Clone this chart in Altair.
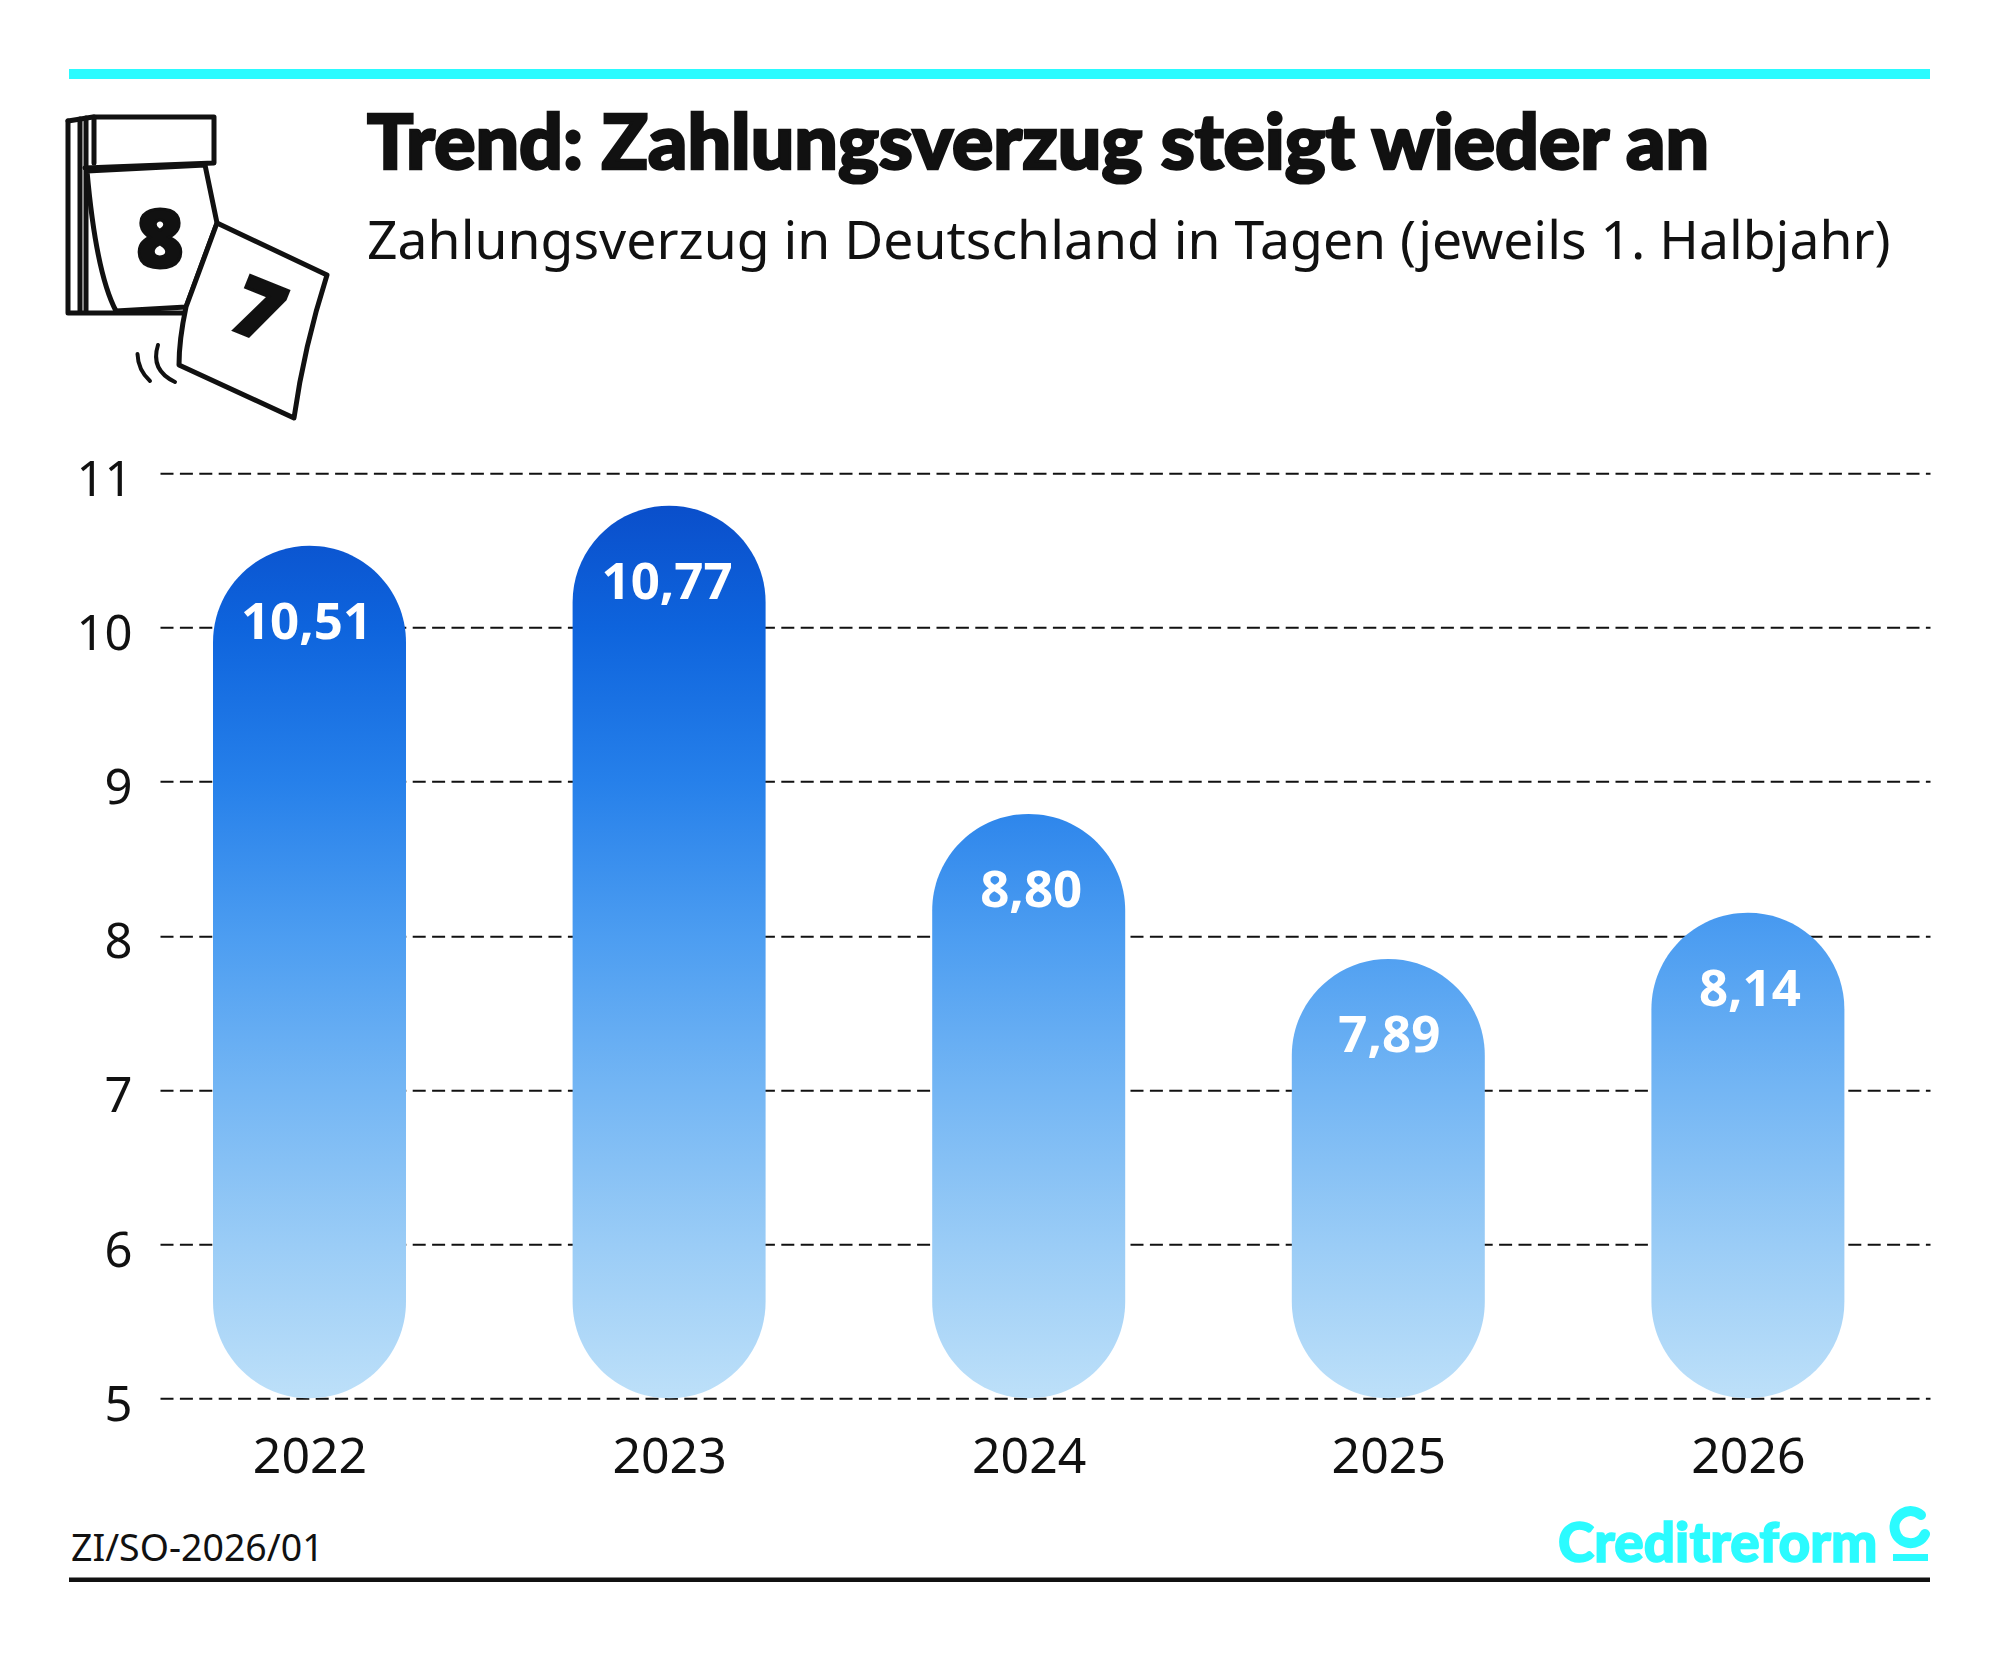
import altair as alt
import pandas as pd

years = [2022, 2023, 2024, 2025, 2026]
bar_tops = [10.53, 10.79, 8.79, 7.85, 8.15]
value_labels = ["10,51", "10,77", "8,80", "7,89", "8,14"]
label_nudges = [-3, -2, 2.5, 1, 2]
y_ticks = [5, 6, 7, 8, 9, 10, 11]

INK = "#111111"
CYAN = "#2bfbff"
X0, Y0 = 160.0, 473.3
W, H = 1770, 925
FONT = "Noto Sans"

gradient_stops = [
    (0.000, "#0a48c4"),
    (0.036, "#0a4fcb"),
    (0.167, "#0e64dd"),
    (0.333, "#2680ea"),
    (0.500, "#4c9df1"),
    (0.667, "#74b6f4"),
    (0.833, "#9accf6"),
    (1.000, "#bde0f9"),
]

x_scale = alt.Scale(domain=[2022 - 149.5 / 359.6, 2026 + 182.1 / 359.6], nice=False, zero=False, padding=0)
y_scale = alt.Scale(domain=[5, 11], nice=False, zero=False)

one = pd.DataFrame({"k": [0]})

def vx(v):
    return alt.value(v - X0)

def vy(v):
    return alt.value(v - Y0)

def page_text(txt, x, y, size, weight="normal", font=FONT, color=INK, align="left", angle=0, sw=0):
    kw = dict(stroke=color, strokeWidth=sw) if sw else {}
    return alt.Chart(one).mark_text(
        text=txt, font=font, fontSize=size, fontWeight=weight, color=color,
        align=align, baseline="alphabetic", angle=angle, **kw
    ).encode(x=vx(x), y=vy(y))

def page_path(d, stroke=INK, sw=5, fill=None):
    kw = dict(shape=d, size=4, stroke=stroke, strokeWidth=sw, opacity=1, strokeJoin="round", strokeCap="round")
    if fill:
        kw.update(filled=True, fill=fill)
    else:
        kw.update(filled=False, fill="transparent")
    return alt.Chart(one).mark_point(**kw).encode(x=vx(0), y=vy(0))

def rect(x1, x2, y1, y2, color):
    return alt.Chart(one).mark_rect(color=color).encode(
        x=vx(x1), x2=vx(x2), y=vy(y1), y2=vy(y2))

# gridlines and axes
base = alt.Chart(pd.DataFrame({"year": years, "top": bar_tops}))
axes = base.mark_point(opacity=0).encode(
    x=alt.X("year:Q", scale=x_scale, axis=alt.Axis(
        values=years, format="d", title=None, grid=False, domain=False, ticks=False,
        labelFont=FONT, labelFontSize=50, labelColor=INK, labelPadding=74,
        labelBaseline="alphabetic", labelFlush=False, labelOverlap=False)),
    y=alt.Y("top:Q", scale=y_scale, axis=alt.Axis(
        values=y_ticks, format="d", title=None, grid=True, gridColor=INK, gridDash=[13, 6.4], gridWidth=2,
        domain=False, ticks=False, labelFont=FONT, labelFontSize=49, labelColor=INK,
        labelPadding=28, labelOffset=7, labelFlush=False)),
)

bars = []
for yr, top in zip(years, bar_tops):
    grad = alt.LinearGradient(
        gradient="linear", x1=0, x2=0, y1=(top - 11) / (top - 5), y2=1,
        stops=[alt.GradientStop(offset=o, color=c) for o, c in gradient_stops],
    )
    bars.append(
        alt.Chart(pd.DataFrame({"year": [yr], "top": [top], "base": [5]}))
        .mark_bar(size=193, cornerRadius=96.5, color=grad)
        .encode(x=alt.X("year:Q", scale=x_scale), y=alt.Y("top:Q", scale=y_scale), y2="base:Q")
    )

labels = [
    alt.Chart(pd.DataFrame({"year": [yr], "top": [top], "label": [lab]})).mark_text(
        font=FONT, fontSize=51, fontWeight="bold", color="white", dy=78, dx=nudge
    ).encode(x=alt.X("year:Q", scale=x_scale), y=alt.Y("top:Q", scale=y_scale), text="label:N")
    for yr, top, lab, nudge in zip(years, bar_tops, value_labels, label_nudges)
]

icon = [
    page_path("M68 121 L93 117 L214 117 L214 163 L85 168"),
    page_path("M68 121 L68 313 L185 313 M80 119 L80 313 M86 118 L86 313 M94 117 L94 163"),
    page_path("M87 171 L205 165 L217 223 L186 307 L116 311 Q96 273 87 171 Z", fill="white"),
    page_path("M217 223 L327 275 Q304 347 294 418 L179 365 Q179 340 186 307 Z", fill="white"),
    page_path("M137.5 354 Q138 370 150 381 M158 345 Q150 370 175 382", sw=4),
    page_text("8", 160, 267, 80, weight=900, align="center", sw=3),
    page_text("7", 248, 336, 80, weight=900, align="center", angle=22, sw=3),
]

chart = alt.layer(
    axes, *bars, *labels,
    rect(69, 1930, 69, 79, CYAN),
    rect(69, 1930, 1577.5, 1582, INK),
    *icon,
    page_text("Trend: Zahlungsverzug steigt wieder an", 367, 169, 77, weight=900, font="Lato", sw=2.5),
    page_text("Zahlungsverzug in Deutschland in Tagen (jeweils 1. Halbjahr)", 367, 259, 53.5),
    page_text("ZI/SO-2026/01", 71, 1561, 37.5),
    page_text("Creditreform", 1558, 1562, 55, weight=900, font="Lato", color=CYAN, sw=1.5),
    page_path("M1921 1515 A16 16 0 1 0 1925 1534", stroke=CYAN, sw=10),
    rect(1893, 1928, 1554, 1561, CYAN),
).properties(
    width=W, height=H,
    autosize=alt.AutoSizeParams(type="none"),
    padding={"left": X0 - 8, "top": Y0 - 8, "right": 20, "bottom": 220},
    background="white",
).configure_view(stroke=None)

chart.save("out.html", embed_options={"renderer": "svg", "actions": False})
